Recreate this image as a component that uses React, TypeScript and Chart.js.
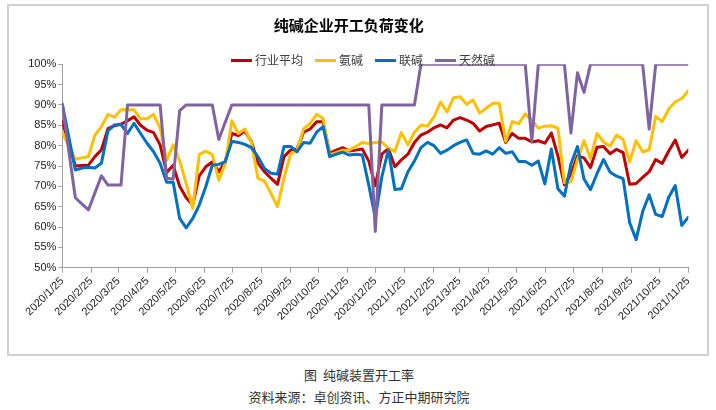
import React, { useEffect, useRef } from 'react';
import { Chart, registerables } from 'chart.js';

Chart.register(...registerables);

const chartTitle = '纯碱企业开工负荷变化';
const captionLine1 = '图  纯碱装置开工率';
const captionLine2 = '资料来源：卓创资讯、方正中期研究院';

const seriesNames = ['行业平均', '氨碱', '联碱', '天然碱'];
const seriesColors = ['#C00000', '#FFC000', '#0070C0', '#8064A2'];

const tickLabels = [
  '2020/1/25', '2020/2/25', '2020/3/25', '2020/4/25', '2020/5/25', '2020/6/25',
  '2020/7/25', '2020/8/25', '2020/9/25', '2020/10/25', '2020/11/25', '2020/12/25',
  '2021/1/25', '2021/2/25', '2021/3/25', '2021/4/25', '2021/5/25', '2021/6/25',
  '2021/7/25', '2021/8/25', '2021/9/25', '2021/10/25', '2021/11/25',
];

// weekly readings, 2020/1/25 .. 2021/11/25 (null = no report that week)
const industryAvg = [
  86.0, null, 75.0, 75.1, 75.2, 77.3, 79.0, 84.2, 84.9, 85.3,
  86.1, 87.1, 85.0, 83.8, 83.2, 80.2, 73.4, 75.2, 70.0, 67.2,
  65.4, 72.6, 74.8, 76.0, 73.6, 76.1, 83.0, 82.5, 83.6, 81.0,
  75.7, 73.6, 72.0, 70.5, 77.3, 78.9, 79.2, 83.3, 84.1, 85.9,
  85.9, 78.1, 78.9, 79.5, 78.7, 78.9, 79.2, 76.2, 70.2, 77.9,
  79.3, 74.8, 76.5, 77.9, 80.8, 82.6, 83.3, 84.4, 85.1, 84.4,
  86.3, 86.9, 86.3, 85.5, 83.6, 84.7, 85.1, 85.5, 80.8, 83.0,
  81.8, 81.8, 80.9, 81.2, 80.6, 83.1, 77.5, 70.4, 73.0, 77.5,
  77.0, 74.6, 79.6, 79.8, 78.0, 79.1, 78.3, 70.5, 70.7, 72.2,
  73.6, 76.6, 75.6, 78.7, 81.4, 77.1, 78.9,
];

const ammoniaSoda = [
  83.2, null, 76.7, 77.0, 77.3, 82.6, 84.7, 87.7, 87.0, 88.8,
  88.8, 88.8, 86.6, 86.6, 87.7, 84.3, 76.4, 80.2, 76.3, 70.7,
  64.6, 77.8, 78.7, 77.8, 71.5, 75.7, 86.1, 83.0, 84.1, 80.8,
  72.0, 71.3, 68.3, 65.0, 72.0, 77.9, 78.9, 84.1, 85.5, 87.7,
  86.7, 77.7, 78.3, 78.9, 78.9, 79.8, 80.8, 80.5, 80.8, 80.9,
  79.4, 78.6, 83.2, 80.2, 83.3, 85.0, 84.8, 87.1, 90.7, 88.3,
  91.8, 92.0, 90.2, 91.2, 88.0, 89.2, 90.4, 90.4, 81.1, 85.9,
  85.4, 87.8, 86.3, 84.3, 84.8, 84.9, 84.3, 70.9, 71.1, 76.5,
  81.2, 76.8, 83.0, 80.9, 79.9, 82.6, 81.5, 76.0, 81.2, 78.5,
  79.0, 87.2, 85.9, 89.0, 90.8, 91.6, 93.5,
];

const jointSoda = [
  90.2, null, 74.0, 74.5, 74.7, 74.5, 75.7, 83.6, 85.1, 85.2,
  83.0, 85.5, 83.0, 80.6, 78.5, 75.7, 71.0, 71.0, 62.1, 59.8,
  62.1, 65.4, 69.9, 75.2, 75.4, 76.1, 81.1, 80.8, 80.3, 79.5,
  77.3, 74.4, 73.2, 73.0, 79.8, 79.8, 78.5, 80.8, 80.6, 83.3,
  84.7, 77.3, 77.9, 78.4, 77.7, 77.9, 77.7, 70.3, 62.3, 72.3,
  79.0, 69.2, 69.4, 73.6, 76.2, 79.5, 80.8, 80.0, 78.1, 78.9,
  80.0, 80.8, 81.4, 78.1, 77.9, 78.7, 77.9, 79.5, 78.1, 78.5,
  76.1, 76.1, 75.2, 76.2, 70.6, 79.2, 69.4, 67.6, 75.5, 79.8,
  71.8, 69.2, 73.1, 76.6, 73.5, 72.5, 71.9, 61.1, 56.9, 63.8,
  67.9, 63.1, 62.6, 67.3, 70.2, 60.4, 62.4,
];

const naturalSoda = [
  90.2, null, 67.2, 65.7, 64.2, 68.4, 72.6, 70.3, 70.3, 70.3,
  90.0, 90.0, 90.0, 90.0, 90.0, 90.0, 72.0, 71.8, 88.6, 90.0,
  90.0, 90.0, 90.0, 90.0, 81.5, 85.8, 90.0, 90.0, 90.0, 90.0,
  90.0, 90.0, 90.0, 90.0, 90.0, 90.0, 90.0, 90.0, 90.0, 90.0,
  90.0, 90.0, 90.0, 90.0, 90.0, 90.0, 90.0, 90.0, 58.9, 90.0,
  90.0, 90.0, 90.0, 90.0, 90.0, 100, 100, 100, 100, 100,
  100, 100, 100, 100, 100, 100, 100, 100, 100, 100,
  100, 100, 81.0, 100, 100, 100, 100, 100, 83.1, 97.9,
  93.1, 100, 100, 100, 100, 100, 100, 100, 100, 100,
  84.1, 100, 100, 100, 100, 100, 100,
];

const seriesValues = [industryAvg, ammoniaSoda, jointSoda, naturalSoda];

const yMin = 50;
const yMax = 100;
const yStep = 5;

function dayOffset(label: string): number {
  const [y, m, d] = label.split('/').map(Number);
  return (Date.UTC(y, m - 1, d) - Date.UTC(2020, 0, 25)) / 86400000;
}

const tickDays = tickLabels.map(dayOffset);
const totalDays = tickDays[tickDays.length - 1];

const legendPlugin = {
  id: 'lineLegend',
  afterDraw(chart: any) {
    const ctx = chart.ctx;
    ctx.save();
    ctx.font = '12px "Noto Sans CJK SC"';
    ctx.textBaseline = 'middle';
    const seg = 21;
    const gap = 3;
    const spacing = 12;
    const items = chart.data.datasets.map((ds: any) => ({
      label: ds.label,
      color: ds.borderColor,
      w: ctx.measureText(ds.label).width,
    }));
    const total =
      items.reduce((s: number, it: any) => s + seg + gap + it.w, 0) + spacing * (items.length - 1);
    let x = 354 - total / 2;
    const y = 54.5;
    for (const it of items) {
      ctx.strokeStyle = it.color;
      ctx.lineWidth = 3;
      ctx.lineCap = 'butt';
      ctx.beginPath();
      ctx.moveTo(x, y);
      ctx.lineTo(x + seg, y);
      ctx.stroke();
      x += seg + gap;
      ctx.fillStyle = '#404040';
      ctx.fillText(it.label, x, y);
      x += it.w + spacing;
    }
    ctx.restore();
  },
};

export default function App() {
  const canvasRef = useRef<HTMLCanvasElement | null>(null);

  useEffect(() => {
    if (!canvasRef.current) return;
    const n = industryAvg.length;
    const datasets = seriesValues.map((vals, si) => ({
      label: seriesNames[si],
      data: vals.map((v, i) => ({ x: (i * totalDays) / (n - 1), y: v })),
      borderColor: seriesColors[si],
      backgroundColor: seriesColors[si],
      borderWidth: 3,
      pointRadius: 0,
      tension: 0,
      spanGaps: true,
      borderJoinStyle: 'round' as const,
      borderCapStyle: 'round' as const,
      order: 4 - si,
    }));

    const axisColor = '#a0a0a0';
    const chart = new Chart(canvasRef.current, {
      type: 'line',
      data: { datasets },
      plugins: [legendPlugin],
      options: {
        animation: false,
        responsive: false,
        devicePixelRatio: 1,
        layout: { padding: { top: 0, left: 0, right: 18.7, bottom: 0 } },
        plugins: {
          legend: { display: false },
          tooltip: { enabled: false },
          title: {
            display: true,
            text: chartTitle,
            color: '#000',
            font: { family: '"Noto Sans CJK SC"', size: 15, weight: 'bold' },
            padding: { top: 10, bottom: 30.3 },
          },
        },
        scales: {
          x: {
            type: 'linear',
            min: 0,
            max: totalDays,
            afterBuildTicks: (axis: any) => {
              axis.ticks = tickDays.map((v) => ({ value: v }));
            },
            afterFit: (axis: any) => {
              axis.height = 86.3;
            },
            ticks: {
              autoSkip: false,
              maxRotation: 45,
              minRotation: 45,
              padding: 2,
              color: '#222',
              font: { family: '"Liberation Sans"', size: 11 },
              callback: (value: any) => {
                const idx = tickDays.indexOf(Number(value));
                return idx >= 0 ? tickLabels[idx] : '';
              },
            },
            grid: {
              display: true,
              drawOnChartArea: false,
              drawTicks: true,
              tickLength: 5,
              color: axisColor,
            },
            border: { display: true, color: axisColor, width: 1 },
          },
          y: {
            min: yMin,
            max: yMax,
            afterFit: (axis: any) => {
              axis.width = 53.3;
            },
            ticks: {
              stepSize: yStep,
              padding: 2,
              color: '#222',
              font: { family: '"Liberation Sans"', size: 11 },
              callback: (value: any) => `${value}%`,
            },
            grid: {
              display: true,
              drawOnChartArea: false,
              drawTicks: true,
              tickLength: 4,
              color: axisColor,
            },
            border: { display: true, color: axisColor, width: 1 },
          },
        },
      },
    } as any);
    return () => chart.destroy();
  }, []);

  return (
    <div>
      <div
        style={{
          position: 'absolute',
          left: 7,
          top: 4,
          width: 702,
          height: 352,
          border: '2px solid #d0d0d0',
          boxSizing: 'border-box',
          background: '#fff',
        }}
      >
        <canvas ref={canvasRef} width={698} height={348} style={{ display: 'block', width: 698, height: 348 }} />
      </div>
      <div
        style={{
          position: 'absolute',
          left: 0,
          top: 367,
          width: 718,
          textAlign: 'center',
          fontFamily: '"Noto Sans CJK SC"',
          fontSize: 13,
          lineHeight: '16px',
          color: '#333',
          whiteSpace: 'pre',
        }}
      >
        {captionLine1}
      </div>
      <div
        style={{
          position: 'absolute',
          left: 0,
          top: 389,
          width: 718,
          textAlign: 'center',
          fontFamily: '"Noto Sans CJK SC"',
          fontSize: 13,
          lineHeight: '16px',
          color: '#333',
        }}
      >
        {captionLine2}
      </div>
    </div>
  );
}
